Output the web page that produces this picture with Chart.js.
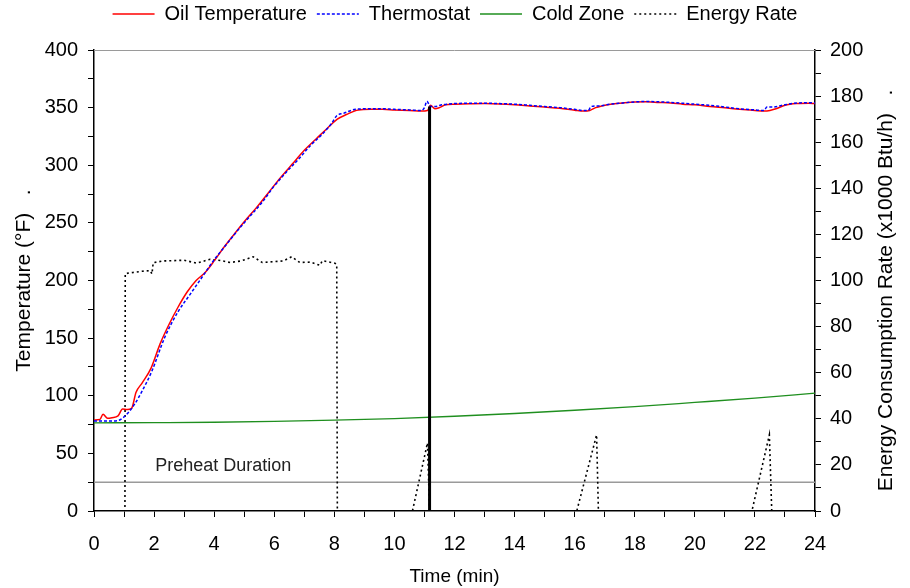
<!DOCTYPE html>
<html>
<head>
<meta charset="utf-8">
<script src="https://cdn.jsdelivr.net/npm/chart.js@4.4.1/dist/chart.umd.min.js"></script>
<style>
  html, body { margin: 0; padding: 0; background: #fff; }
  canvas { display: block; }
</style>
</head>
<body>
<canvas id="myChart" width="910" height="588"></canvas>
<script>
// Oil temperature (red)
const oilTime = [0, 0.2, 0.3, 0.45, 0.6, 0.8, 0.95, 1.1, 1.25, 1.4, 1.6, 1.9, 2.2, 2.5, 2.8, 3.1, 3.4, 3.7, 4.0, 4.3, 4.6, 5.0, 5.4, 5.8, 6.2, 6.6, 7.0, 7.4, 7.8, 8.1, 8.4, 8.8, 9.2, 9.6, 10.0, 10.5, 10.9, 11.1, 11.2, 11.35, 11.5, 11.7, 12.0, 12.5, 13.0, 13.5, 14.0, 14.5, 15.0, 15.5, 16.0, 16.3, 16.5, 16.7, 16.9, 17.2, 17.6, 18.0, 18.4, 18.8, 19.2, 19.6, 20.0, 20.5, 21.0, 21.5, 22.0, 22.3, 22.5, 22.7, 23.0, 23.4, 23.8, 24.0];
const oilTemp = [79, 79.5, 84, 80.5, 81, 82.5, 88.5, 88, 89, 103, 111, 124, 145, 162, 177, 190, 200, 207, 217, 228, 238, 251, 263, 276, 289, 301, 313, 323, 333, 340, 344, 348, 348.5, 348.5, 348, 347.5, 347, 347.5, 352, 349, 350, 352.5, 353, 353.3, 353.5, 353.2, 352.5, 351.5, 350.5, 349.5, 347.8, 347, 347.5, 350, 351.5, 353, 354, 354.8, 355, 354.5, 354, 353, 352.5, 351, 349.8, 348.5, 347.5, 347, 347.5, 349, 352, 353.5, 353.8, 353.5];

// Thermostat (blue dotted)
const thermoTime = [0, 0.5, 0.8, 1.13, 1.36, 1.6, 1.92, 2.36, 2.8, 3.2, 3.6, 4.0, 4.4, 4.8, 5.2, 5.6, 6.0, 6.4, 6.8, 7.2, 7.6, 7.9, 8.08, 8.3, 8.7, 9.2, 9.6, 10.0, 10.5, 10.9, 11.0, 11.08, 11.2, 11.35, 11.6, 12.0, 12.5, 13.0, 13.5, 14.0, 14.5, 15.0, 15.5, 16.0, 16.3, 16.45, 16.55, 16.8, 17.2, 17.6, 18.0, 18.4, 18.8, 19.2, 19.6, 20.0, 20.5, 21.0, 21.5, 22.0, 22.3, 22.4, 22.6, 23.0, 23.4, 23.8, 24.0];
const thermoTemp = [78, 78, 78.5, 85, 93, 104, 121, 151, 173, 188, 203, 218, 231, 244, 256, 268, 282, 294, 305, 317, 327, 336, 343, 345, 348.5, 349, 349, 348.5, 348, 347.5, 350, 355.5, 351, 351, 352.5, 353.5, 353.8, 353.8, 353.5, 353, 352, 351, 350, 348.5, 347.5, 347.5, 351, 351.5, 353, 354, 355, 355.3, 355, 354.5, 353.8, 353, 352, 350.5, 349, 348, 347.5, 350.5, 350.5, 352.5, 354, 354.2, 354];

// Cold zone (green)
const coldTime = [0, 2, 4, 6, 8, 10, 12, 14, 16, 18, 20, 22, 24];
const coldTemp = [76.5, 76.7, 77, 77.7, 78.8, 80.2, 82.2, 84.6, 87.4, 90.5, 94.2, 98, 102.2];

// Energy consumption rate (x1000 Btu/h, right axis)
const energyTime = [0, 1.03, 1.04, 1.3, 1.6, 1.87, 1.93, 1.97, 2.3, 2.6, 3.0, 3.42, 3.86, 4.2, 4.53, 4.9, 5.3, 5.6, 6.0, 6.3, 6.58, 6.85, 7.2, 7.52, 7.6, 8.02, 8.08, 8.1, 10.6, 11.1, 11.17, 16.07, 16.73, 16.79, 21.9, 22.48, 22.56, 24];
const energyRate = [0, 0, 103, 103.5, 104, 104.3, 102.8, 107.7, 108.5, 108.6, 108.8, 107.5, 109.2, 108.7, 107.8, 108.5, 110.3, 107.8, 108.2, 108.5, 110.3, 107.8, 108, 106.6, 108.6, 107.5, 107, 0, 0, 29.5, 0, 0, 33, 0, 0, 33, 0, 0];

// preheat marker
const preheatEnd = 11.17;
const preheatEndTemp = 351;
const preheatLevel = 25;
const preheatLabel = 'Preheat Duration';
const preheatLabelAt = [4.3, 39];

const toPoints = (xs, ys) => xs.map((x, i) => ({x: x, y: ys[i]}));

const FONT = '"Liberation Sans", Arial, sans-serif';
Chart.defaults.font.family = FONT;
Chart.defaults.font.size = 20;
Chart.defaults.color = '#000';

const extras = {
  id: 'extras',
  beforeLayout(chart) {
    // leave room between legend and plot like the original
    const lg = chart.legend;
    if (lg && !lg._patched) {
      const fit = lg.fit;
      lg.fit = function () { fit.call(this); this.height = 56; };
      lg._patched = true;
    }
  },
  afterDatasetsDraw(chart) {
    const {ctx, chartArea, scales} = chart;
    ctx.save();
    // top frame line
    ctx.strokeStyle = '#9a9a9a';
    ctx.lineWidth = 1;
    ctx.beginPath();
    ctx.moveTo(chartArea.left, chartArea.top + 0.5);
    ctx.lineTo(chartArea.right, chartArea.top + 0.5);
    ctx.stroke();
    // preheat label
    ctx.fillStyle = '#222';
    ctx.font = '18px ' + FONT;
    ctx.textAlign = 'center';
    ctx.textBaseline = 'middle';
    ctx.fillText(preheatLabel, scales.x.getPixelForValue(preheatLabelAt[0]), scales.y.getPixelForValue(preheatLabelAt[1]));
    // right axis title, reading bottom to top
    ctx.font = '21px ' + FONT;
    ctx.fillStyle = '#000';
    ctx.translate(886, (chartArea.top + chartArea.bottom) / 2 + 10);
    ctx.rotate(-Math.PI / 2);
    ctx.fillText('Energy Consumption Rate (x1000 Btu/h)   .', 0, 0);
    ctx.restore();
  }
};

const data = {
  datasets: [
    {
      label: 'Oil Temperature',
      data: toPoints(oilTime, oilTemp),
      borderColor: '#ff0000',
      borderWidth: 1.5,
      cubicInterpolationMode: 'monotone',
      yAxisID: 'y',
      order: 2
    },
    {
      label: 'Thermostat',
      data: toPoints(thermoTime, thermoTemp),
      borderColor: '#0000ff',
      borderWidth: 1.5,
      borderDash: [3, 2],
      cubicInterpolationMode: 'monotone',
      yAxisID: 'y',
      order: 1
    },
    {
      label: 'Cold Zone',
      data: toPoints(coldTime, coldTemp),
      borderColor: '#1f8f1f',
      borderWidth: 1.3,
      cubicInterpolationMode: 'monotone',
      yAxisID: 'y',
      order: 4
    },
    {
      label: 'Energy Rate',
      data: toPoints(energyTime, energyRate),
      borderColor: '#000',
      borderWidth: 1.6,
      borderDash: [2, 3],
      yAxisID: 'y1',
      order: 3
    },
    {
      label: 'preheat',
      data: [{x: 0, y: preheatLevel}, {x: 24, y: preheatLevel}],
      borderColor: '#9a9a9a',
      borderWidth: 1.5,
      yAxisID: 'y',
      order: 5
    },
    {
      label: 'end',
      data: [{x: preheatEnd, y: 0}, {x: preheatEnd, y: preheatEndTemp}],
      borderColor: '#000',
      borderWidth: 3,
      yAxisID: 'y',
      order: 0
    }
  ]
};

const config = {
  type: 'line',
  data: data,
  plugins: [extras],
  options: {
    responsive: false,
    animation: false,
    layout: { padding: { top: -6, right: 0, left: 0, bottom: 0 } },
    elements: {
      point: { radius: 0 },
      line: { fill: false }
    },
    plugins: {
      tooltip: { enabled: false },
      legend: {
        position: 'top',
        labels: {
          usePointStyle: true,
          pointStyle: 'line',
          pointStyleWidth: 42,
          padding: 10,
          font: { size: 20 },
          color: '#000',
          generateLabels: (chart) => {
            const items = Chart.defaults.plugins.legend.labels.generateLabels(chart);
            return items.filter((it) => it.datasetIndex < 4).map((it) => {
              const ds = chart.data.datasets[it.datasetIndex];
              it.lineDash = ds.borderDash || [];
              it.strokeStyle = ds.borderColor;
              it.lineWidth = 1.5;
              it.pointStyle = 'line';
              return it;
            });
          },
          sort: (a, b) => a.datasetIndex - b.datasetIndex
        }
      }
    },
    scales: {
      x: {
        type: 'linear',
        min: 0,
        max: 24,
        afterFit: (s) => { s.height = 77; },
        border: { color: '#000', width: 1.5 },
        grid: { drawOnChartArea: false, tickLength: 6, tickColor: '#000', tickWidth: 1 },
        ticks: {
          stepSize: 1,
          autoSkip: false,
          maxRotation: 0,
          padding: 15,
          callback: (v) => (v % 2 === 0 ? String(v) : '')
        },
        title: { display: true, text: 'Time (min)', font: { size: 19 }, padding: { top: 0, bottom: 0 } }
      },
      y: {
        position: 'left',
        min: 0,
        max: 400,
        afterFit: (s) => { s.width = 94; },
        border: { color: '#000', width: 1.5 },
        grid: { drawOnChartArea: false, tickLength: 6, tickColor: '#000', tickWidth: 1 },
        ticks: {
          stepSize: 25,
          autoSkip: false,
          padding: 10,
          callback: (v) => (v % 50 === 0 ? String(v) : '')
        },
        title: { display: true, text: 'Temperature (°F)   .', font: { size: 21 }, padding: { top: 12, bottom: 0 } }
      },
      y1: {
        position: 'right',
        min: 0,
        max: 200,
        afterFit: (s) => { s.width = 95; },
        border: { color: '#000', width: 1.5 },
        grid: { drawOnChartArea: false, tickLength: 6, tickColor: '#000', tickWidth: 1 },
        ticks: {
          stepSize: 10,
          autoSkip: false,
          padding: 9,
          callback: (v) => (v % 20 === 0 ? String(v) : '')
        }
      }
    }
  }
};

const myChart = new Chart(
  document.getElementById('myChart'),
  config
);
</script>
</body>
</html>
